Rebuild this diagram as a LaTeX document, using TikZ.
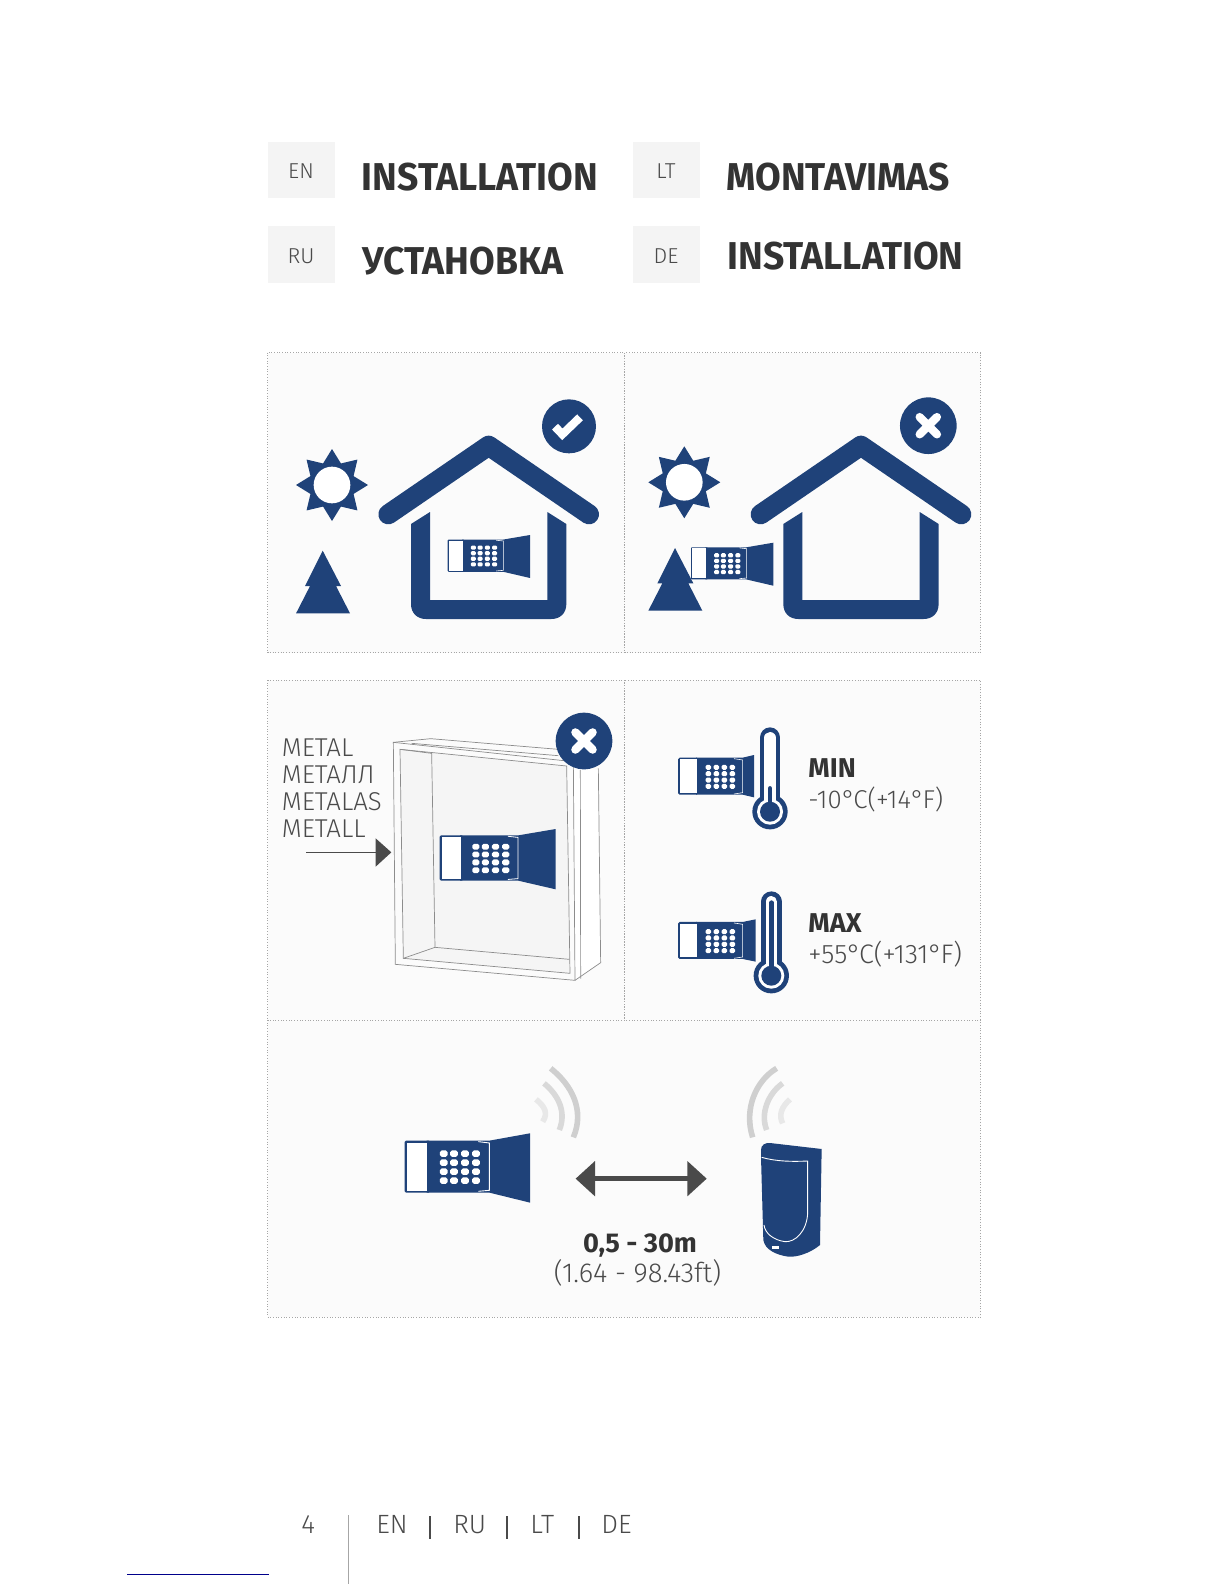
\documentclass[tikz,border=0pt]{standalone}
\usepackage{fontspec}
\setmainfont{Fira Sans}
\newfontfamily\lightf{Fira Sans Light}
\definecolor{iblue}{HTML}{1F4279}
\definecolor{tdark}{HTML}{333333}
\definecolor{tthin}{HTML}{4A4A4A}
\definecolor{panelfill}{HTML}{FBFBFB}
\definecolor{tabfill}{HTML}{F4F4F4}
\definecolor{boxline}{HTML}{8C8C8C}
\newcommand{\hd}[1]{\scalebox{0.96}[1]{#1}}
\newcommand{\dg}{°\kern-0.9pt }
\tikzset{
 panel/.style={fill=panelfill,draw=black!35,line width=0.35pt,densely dotted},
 tabtext/.style={text=tthin,anchor=center,font=\lightf\fontsize{10.8}{12}\selectfont},
 headtext/.style={text=tdark,anchor=base west,font=\bfseries\fontsize{19.4}{22}\selectfont},
 thintext/.style={text=tthin,anchor=base west,font=\lightf\fontsize{12.9}{15}\selectfont},
 temptext/.style={text=tthin,anchor=base west,font=\lightf\fontsize{13.4}{15}\selectfont},
 widetext/.style={text=tthin,anchor=base,font=\lightf\fontsize{13.7}{15}\selectfont},
 boldtext/.style={text=tdark,anchor=base west,font=\bfseries\fontsize{13.6}{16}\selectfont},
 foot/.style={text=tthin,anchor=base west,font=\lightf\fontsize{13.2}{15}\selectfont},
 boxedge/.style={draw=boxline,line width=0.35pt},
 wave/.style={line width=2.8pt,line cap=butt},
 bigarrow/.style={fill=tthin,draw=none}
}
\newcommand{\devicefig}[5][0.3pt]{%
 \begin{scope}[shift={(#2,#3)},xscale=#4,yscale=#5,shift={(-44,-250)}]
  \fill[iblue,rounded corners=#4*2pt] (44,272) -- (120,272) -- (120,428) -- (44,428) -- cycle;
  \fill[iblue] (110,272) -- (298,272) -- (420,250) -- (420,458) -- (298,428) -- (110,428) -- cycle;
  \fill[white] (50,278) rectangle (112,422);
  \draw[white,line width=#1] (265,275) -- (298,279) -- (298,421) -- (265,424);
  \foreach \kx in {161,192,225,258}{\foreach \ky in {311,338,365,392}{
    \fill[white,rounded corners=#4*2.8pt] (\kx-11.5,\ky-10) rectangle (\kx+11.5,\ky+10);}}
 \end{scope}}
% device beside a thermometer: the flared end is short
\newcommand{\thermodev}[2]{%
 \begin{scope}[shift={(660,#1)},scale=0.33333]
  \fill[iblue,rounded corners=0.8pt] (54,143) -- (115,143) -- (115,254) -- (54,254) -- cycle;
  \fill[iblue] (108,143) -- (248,143) -- (#2,135) -- (#2,262) -- (248,254) -- (108,254) -- cycle;
  \fill[white] (59,148) rectangle (110,249);
  \draw[white,line width=0.3pt] (222,146) -- (248,150) -- (248,248) -- (222,252);
  \foreach \kx in {145,169,193,217}{\foreach \ky in {172,191,210,229}{
    \fill[white,rounded corners=0.8pt] (\kx-8.5,\ky-7.5) rectangle (\kx+8.5,\ky+7.5);}}
 \end{scope}}
\newcommand{\housefig}[1]{%
 \begin{scope}[shift={(#1,0)},shift={(265,380)},scale=0.33333]
  \draw[iblue,line width=10pt,line cap=round,line join=round] (370,403) -- (671,197) -- (972,403);
  \fill[iblue] (438,432) -- (495,396) -- (495,660) -- (847,660) -- (847,396) -- (904,432) -- (904,672)
    .. controls (904,700) and (885,717) .. (859,717) -- (483,717) .. controls (457,717) and (438,700) .. (438,672) -- cycle;
 \end{scope}}
\newcommand{\sunfig}[2]{%
 \begin{scope}[shift={(#1,#2)},scale=0.33333]
  \fill[iblue] (90:108) -- (67.5:70) -- (45:108) -- (22.5:70) -- (0:108) -- (-22.5:70) -- (-45:108) -- (-67.5:70) -- (-90:108)
   -- (-112.5:70) -- (-135:108) -- (-157.5:70) -- (180:108) -- (157.5:70) -- (135:108) -- (112.5:70) -- cycle;
  \fill[white] (0,0) circle (55);
 \end{scope}}
\newcommand{\treefig}[2]{%
 \begin{scope}[shift={(#1,#2)},scale=0.33333]
  \fill[iblue] (0,0) -- (55,106) -- (40,106) -- (82,188) -- (-80,188) -- (-38,106) -- (-53,106) -- cycle;
 \end{scope}}
\newcommand{\crossfig}[2]{%
 \begin{scope}[shift={(#1,#2)},scale=0.33333]
  \fill[iblue] (0,0) circle (85);
  \draw[white,line width=4.1pt,line cap=round] (-26,-26) -- (26,26) (-26,26) -- (26,-26);
 \end{scope}}
\newcommand{\thermofig}[3]{%
 \begin{scope}[shift={(#1,#2)},scale=0.33333]
  \fill[iblue] (0,0) circle (53);
  \draw[iblue,line width=10.33pt,line cap=round] (0,-222) -- (0,0);
  \fill[white] (0,0) circle (39);
  \draw[white,line width=5.67pt,line cap=round] (0,-222) -- (0,0);
  \fill[iblue] (0,0) circle (30);
  \draw[iblue,line width=2.33pt,line cap=round] (0,-20) -- (0,#3);
 \end{scope}}
\begin{document}
\begin{tikzpicture}[x=0.5pt,y=-0.5pt]
\useasboundingbox (0,0) rectangle (1224,1584);
\fill[white] (0,0) rectangle (1224,1584);
% header tabs
\fill[tabfill] (268,142) rectangle (334.5,198);
\fill[tabfill] (268,226) rectangle (334.5,283);
\fill[tabfill] (633,142) rectangle (700,198);
\fill[tabfill] (633,226) rectangle (700,283);
\node[tabtext] (en) at (301,171) {EN};
\node[tabtext] (ru) at (301,256) {RU};
\node[tabtext] (lt) at (666,171) {LT};
\node[tabtext] (de) at (666,256) {DE};
\node[headtext,inner sep=0pt] (h1) at (361.5,190) {\hd{INSTALLATION}};
\node[headtext,inner sep=0pt] (h2) at (726,190) {\hd{MONTAVIMAS}};
\node[headtext,inner sep=0pt] (h3) at (362,274.5) {\hd{УСТАНОВКА}};
\node[headtext,inner sep=0pt] (h4) at (727,269) {\hd{INSTALLATION}};
% panels
\draw[panel] (267.5,352.5) rectangle (624.5,652.5);
\draw[panel] (624.5,352.5) rectangle (980.5,652.5);
\draw[panel] (267.5,680) rectangle (624.5,1020);
\draw[panel] (624.5,680) rectangle (980.5,1020);
\draw[panel] (267.5,1020) rectangle (980.5,1317);
% top panels
\housefig{0}
\housefig{372.3}
\sunfig{332}{485}
\sunfig{684.3}{482.3}
\treefig{322.7}{550.7}
\treefig{675}{548}
\devicefig{447.7}{535}{0.2189}{0.2067}
\devicefig{691}{542.7}{0.2189}{0.2067}
\begin{scope}[shift={(265,380)},scale=0.33333]
 \fill[iblue] (912,139) circle (81);
 \draw[white,line width=4.1pt,line join=miter,line cap=butt] (870,140) -- (892,163) -- (945,112);
\end{scope}
\crossfig{928.3}{425.7}
% metal box
\begin{scope}[shift={(265,690)},scale=0.33333]
 \fill[white] (925,230) -- (1000,240) -- (1007,818) -- (930,871) -- cycle;
 \fill[panelfill] (385,157) -- (497,146) -- (925,185) -- (930,871) -- (391,823) -- cycle;
 \fill[black!4] (405,178) -- (905,228) -- (915,850) -- (415,805) -- cycle;
 \draw[boxedge] (385,157) -- (925,215) -- (930,871) -- (391,823) -- cycle;
 \draw[boxedge] (385,157) -- (497,146) -- (880,178);
 \draw[boxedge] (440,160) -- (880,197);
 \draw[boxedge] (405,178) -- (905,228) -- (915,850) -- (415,805) -- cycle;
 \draw[boxedge] (405,178) -- (500,190) -- (510,772) -- (415,805);
 \draw[boxedge] (510,772) -- (913,808);
 \draw[boxedge] (946,240) -- (947,866);
 \draw[boxedge] (1000,235) -- (1007,818) -- (930,871);
\end{scope}
\crossfig{584}{741}
\devicefig[0.4pt]{439.7}{829}{0.3085}{0.29}
\node[thintext,inner sep=0pt] (m1) at (281.5,756) {METAL};
\node[thintext,inner sep=0pt] (m2) at (281.5,783) {МЕТАЛЛ};
\node[thintext,inner sep=0pt] (m3) at (281.5,810) {METALAS};
\node[thintext,inner sep=0pt] (m4) at (281.5,837) {METALL};
\begin{scope}[shift={(265,690)},scale=0.33333]
 \coordinate (a1) at (123,487); \coordinate (a2) at (335,487);
 \draw[tthin,line width=0.5pt] (a1) -- (a2);
 \fill[bigarrow] (332,445) -- (379,487) -- (332,530) -- cycle;
\end{scope}
% thermo
\thermodev{710}{282}
\thermodev{874.3}{287}
\thermofig{770}{811.7}{-70}
\thermofig{771.3}{975.7}{-219}
\node[boldtext,inner sep=0pt] (t1) at (808,777) {MIN};
\node[thintext,inner sep=0pt] (t2) at (808,808) {-10\dg C(+14\dg F)};
\node[boldtext,inner sep=0pt] (t3) at (808,932) {MAX};
\node[temptext,inner sep=0pt] (t4) at (808,963) {+55\dg C(+131\dg F)};
% bottom panel
\devicefig[0.45pt]{404.7}{1133.3}{0.3333}{0.3333}
\begin{scope}[shift={(390,1050)},scale=0.33333]
 \draw[wave,color=black!19] (482,55) .. controls (545,105) and (585,180) .. (550,262);
 \draw[wave,color=black!15] (462,100) .. controls (505,135) and (530,185) .. (508,240);
 \draw[wave,color=black!9] (438,148) .. controls (465,170) and (475,190) .. (458,215);
 \draw[wave,color=black!19] (1160,55) .. controls (1100,90) and (1060,175) .. (1088,262);
 \draw[wave,color=black!15] (1178,100) .. controls (1135,130) and (1110,190) .. (1130,240);
 \draw[wave,color=black!9] (1200,148) .. controls (1175,170) and (1165,195) .. (1178,220);
 \coordinate (b1) at (600,385); \coordinate (b2) at (900,385);
 \draw[tthin,line width=2.3pt] (b1) -- (b2);
 \fill[bigarrow] (557,386) -- (615,333) -- (615,439) -- cycle;
 \fill[bigarrow] (950,386) -- (892,333) -- (892,439) -- cycle;
 \fill[iblue] (1113,300) .. controls (1113,285) and (1125,278) .. (1140,279) -- (1295,297) -- (1290,585)
   .. controls (1260,610) and (1220,622) .. (1195,620) .. controls (1160,615) and (1125,600) .. (1120,570) -- (1113,320) -- cycle;
 \draw[white,line width=0.45pt] (1115,322) .. controls (1160,335) and (1210,335) .. (1253,333) -- (1253,490)
   .. controls (1250,545) and (1215,577) .. (1185,575) .. controls (1150,570) and (1125,550) .. (1122,525);
 \fill[white] (1147,588) rectangle (1167,598);
\end{scope}
\node[boldtext,inner sep=0pt,anchor=base] (d1) at (640,1252) {0,5 - 30m};
\node[widetext,inner sep=0pt] (d2) at (637.5,1282) {(1.64 - 98.43ft)};
% footer
\node[foot,inner sep=0pt] (p) at (301,1533) {4};
\node[foot,inner sep=0pt] (f1) at (376,1533) {EN};
\node[foot,inner sep=0pt] (f2) at (453,1533) {RU};
\node[foot,inner sep=0pt] (f3) at (530,1533) {LT};
\node[foot,inner sep=0pt] (f4) at (601,1533) {DE};
\draw[tthin,line width=0.6pt] (430,1516) -- (430,1539);
\draw[tthin,line width=0.6pt] (507,1516) -- (507,1539);
\draw[tthin,line width=0.6pt] (579,1516) -- (579,1539);
\draw[black!35,line width=0.4pt] (348.5,1515) -- (348.5,1584);
\draw[color={rgb,255:red,0;green,0;blue,139},line width=0.7pt] (127,1574.5) -- (269,1574.5);
\end{tikzpicture}
\end{document}
